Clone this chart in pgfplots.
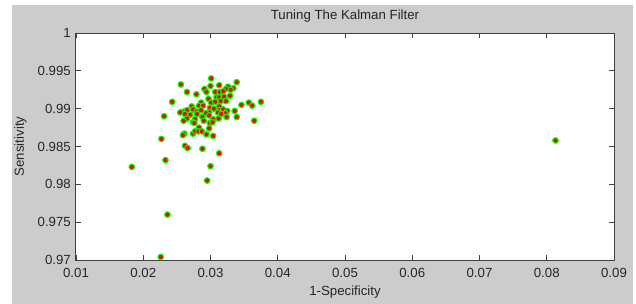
\documentclass[border=0pt]{standalone}
\usepackage{pgfplots}
\pgfplotsset{compat=1.18}
\usepackage{fontspec}
\setmainfont{Liberation Sans}
\definecolor{figgray}{RGB}{204,204,204}
\definecolor{mgreen}{RGB}{0,255,0}
\definecolor{mred}{RGB}{255,0,0}
\begin{document}
\begin{tikzpicture}
\useasboundingbox (-76bp,-44bp) rectangle (560bp,260bp);
\fill[white] (-76bp,-44bp) rectangle (560bp,260bp);
\fill[figgray] (-64bp,-44bp) rectangle (557bp,255bp);
\begin{axis}[
  scale only axis,
  width=538bp, height=227bp,
  xmin=0.01, xmax=0.09, ymin=0.97, ymax=1,
  scaled ticks=false,
  axis background/.style={fill=white},
  font=\fontsize{13.3}{15}\selectfont,
  xtick={0.01,0.02,0.03,0.04,0.05,0.06,0.07,0.08,0.09},
  xticklabels={0.01,0.02,0.03,0.04,0.05,0.06,0.07,0.08,0.09},
  ytick={0.97,0.975,0.98,0.985,0.99,0.995,1},
  yticklabels={0.97,0.975,0.98,0.985,0.99,0.995,1},
  tick align=inside,
  xtick pos=both, ytick pos=both,
  major tick length=5bp,
  every tick/.style={black!75, line width=0.9bp},
  axis line style={black!75, line width=1bp},
  xticklabel style={inner sep=0pt, anchor=north, yshift=-8bp, text=black!85},
  yticklabel style={inner sep=0pt, anchor=east, xshift=-5bp, text=black!85},
  title={Tuning The Kalman Filter},
  title style={at={(axis description cs:0.5,1)}, anchor=base, yshift=8bp, inner sep=0pt, text=black!85},
  xlabel={1-Specificity},
  xlabel style={at={(axis description cs:0.5,-0.1145)}, anchor=north, inner sep=0pt, text=black!85},
  ylabel={Sensitivity},
  ylabel style={at={(axis description cs:-0.1152,0.5)}, anchor=north, inner sep=0pt, text=black!85},
  clip=false,
]
\addplot[only marks, mark=*, mark size=2.8bp, mark options={draw=mgreen, fill=mred, line width=1.1bp}] coordinates {
(0.0301,0.9940) (0.0256,0.9932) (0.0339,0.9935) (0.0313,0.9931) (0.0300,0.9930)
(0.0291,0.9926) (0.0326,0.9929) (0.0334,0.9927) (0.0323,0.9926) (0.0330,0.9925)
(0.0265,0.9922) (0.0294,0.9922) (0.0307,0.9922) (0.0314,0.9922) (0.0319,0.9923)
(0.0279,0.9919) (0.0297,0.9913) (0.0309,0.9915) (0.0313,0.9915) (0.0320,0.9916)
(0.0329,0.9917) (0.0243,0.9909) (0.0286,0.9908) (0.0301,0.9908) (0.0307,0.9909)
(0.0315,0.9910) (0.0323,0.9910) (0.0346,0.9905) (0.0357,0.9908) (0.0375,0.9909)
(0.0362,0.9904) (0.0365,0.9884) (0.0272,0.9903) (0.0283,0.9904) (0.0289,0.9904)
(0.0299,0.9901) (0.0313,0.9903) (0.0305,0.9900) (0.0260,0.9896) (0.0265,0.9898)
(0.0274,0.9899) (0.0279,0.9896) (0.0286,0.9898) (0.0298,0.9895) (0.0313,0.9898)
(0.0319,0.9899) (0.0325,0.9897) (0.0336,0.9897) (0.0255,0.9895) (0.0262,0.9893)
(0.0270,0.9892) (0.0280,0.9893) (0.0293,0.9894) (0.0311,0.9895) (0.0322,0.9894)
(0.0231,0.9890) (0.0265,0.9887) (0.0277,0.9886) (0.0288,0.9889) (0.0298,0.9891)
(0.0316,0.9893) (0.0324,0.9889) (0.0339,0.9889) (0.0260,0.9884) (0.0274,0.9882)
(0.0276,0.9881) (0.0290,0.9884) (0.0304,0.9886) (0.0299,0.9881) (0.0312,0.9887)
(0.0283,0.9875) (0.0298,0.9874) (0.0303,0.9882) (0.0261,0.9867) (0.0259,0.9865)
(0.0274,0.9867) (0.0277,0.9870) (0.0282,0.9870) (0.0287,0.9870) (0.0294,0.9866)
(0.0304,0.9864) (0.0227,0.9860) (0.0262,0.9851) (0.0266,0.9848) (0.0288,0.9847)
(0.0313,0.9841) (0.0300,0.9824) (0.0295,0.9805) (0.0183,0.9823) (0.0233,0.9832)
(0.0236,0.9760) (0.0226,0.9704) (0.0813,0.9858)
};
\end{axis}
\end{tikzpicture}
\end{document}
